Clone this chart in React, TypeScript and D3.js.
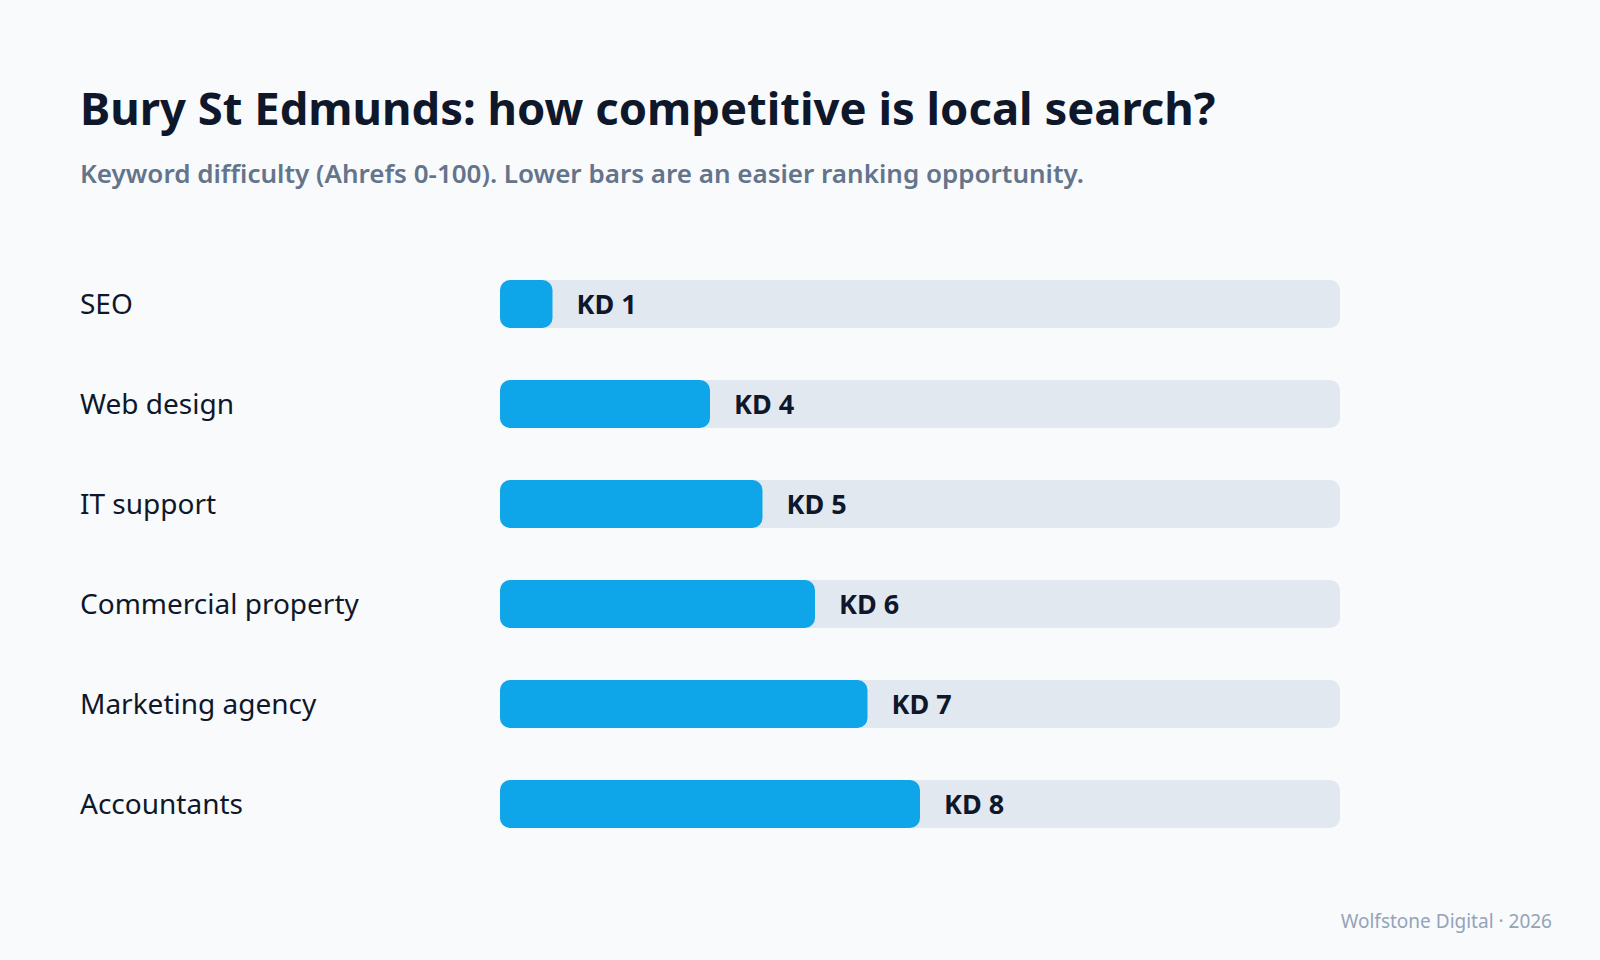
import React from "react";
import * as d3 from "d3";

const categories = ["SEO", "Web design", "IT support", "Commercial property", "Marketing agency", "Accountants"];
const kdValues = [1, 4, 5, 6, 7, 8];
const title = "Bury St Edmunds: how competitive is local search?";
const subtitle = "Keyword difficulty (Ahrefs 0-100). Lower bars are an easier ranking opportunity.";
const footer = "Wolfstone Digital · 2026";

const W = 1600;
const H = 960;
const FONT = "'Noto Sans', 'Open Sans', sans-serif";

export default function App() {
  const trackX = 500;
  const x = d3.scaleLinear().domain([0, 16]).range([0, 840]);
  const y = d3.scaleBand<string>().domain(categories).range([280, 828]).paddingInner(0.52).paddingOuter(0);
  const bh = y.bandwidth();
  return (
    <div style={{ position: "fixed", left: 0, top: 0, width: W, height: H }}>
      <svg width={W} height={H} style={{ display: "block" }}>
        <rect x={0} y={0} width={W} height={H} fill="#f8fafc" />
        <text x={80} y={125} fontFamily={FONT} fontWeight={700} fontSize={45.4} fill="#0f172a">{title}</text>
        <text x={80} y={183} fontFamily={FONT} fontWeight={600} fontSize={26} fill="#64748b">{subtitle}</text>
        {categories.map((c, i) => {
          const ty = y(c) as number;
          const w = x(kdValues[i]);
          return (
            <g key={c}>
              <text x={80} y={ty + bh / 2 + 10} fontFamily={FONT} fontSize={28} fill="#0f172a">{c}</text>
              <rect x={trackX} y={ty} width={x(16)} height={bh} rx={10} fill="#e2e8f0" />
              <rect x={trackX} y={ty} width={w} height={bh} rx={10} fill="#0ea5e9" />
              <text x={trackX + w + 24} y={ty + bh / 2 + 9.5} fontFamily={FONT} fontWeight={700} fontSize={27} fill="#0f172a">{`KD ${kdValues[i]}`}</text>
            </g>
          );
        })}
        <text x={1552} y={928} textAnchor="end" fontFamily={FONT} fontSize={19} fill="#94a3b8">{footer}</text>
      </svg>
    </div>
  );
}
